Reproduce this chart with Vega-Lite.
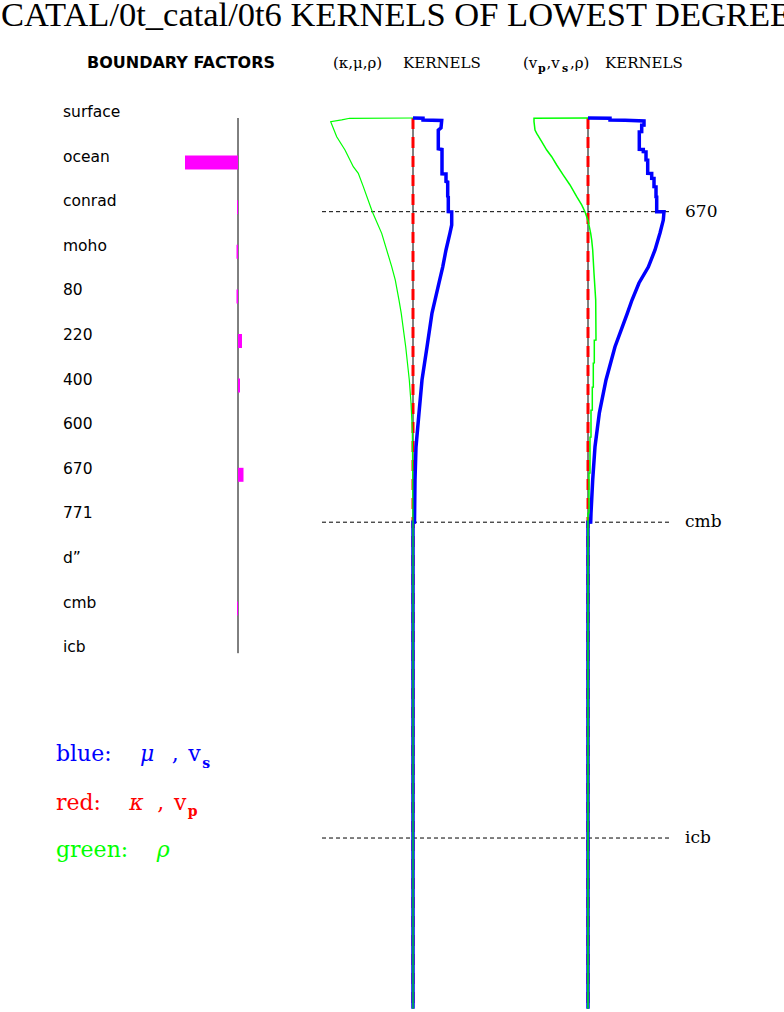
{
  "$schema": "https://vega.github.io/schema/vega-lite/v6.json",
  "width": 784,
  "height": 1012,
  "autosize": {"type": "none"},
  "padding": 0,
  "background": "white",
  "config": {"view": {"stroke": null}},
  "datasets": {
    "boundary": [
      {"boundary": "surface", "factor": 0},
      {"boundary": "ocean", "factor": -5.3},
      {"boundary": "conrad", "factor": -0.1},
      {"boundary": "moho", "factor": -0.15},
      {"boundary": "80", "factor": -0.15},
      {"boundary": "220", "factor": 0.4},
      {"boundary": "400", "factor": 0.2},
      {"boundary": "600", "factor": 0},
      {"boundary": "670", "factor": 0.55},
      {"boundary": "771", "factor": 0},
      {"boundary": "d”", "factor": 0},
      {"boundary": "cmb", "factor": -0.1},
      {"boundary": "icb", "factor": 0}
    ],
    "refs": [
      {"name": "670", "depth": 670},
      {"name": "cmb", "depth": 2891},
      {"name": "icb", "depth": 5150}
    ],
    "kmr": [
      {"param": "kappa", "depth": 0, "value": 0},
      {"param": "kappa", "depth": 2891, "value": 0},
      {"param": "kappa", "depth": 6371, "value": 0},
      {"param": "mu", "depth": 0, "value": 0},
      {"param": "mu", "depth": 2, "value": 0.2},
      {"param": "mu", "depth": 14, "value": 0.2},
      {"param": "mu", "depth": 18, "value": 0.574},
      {"param": "mu", "depth": 71, "value": 0.56},
      {"param": "mu", "depth": 86, "value": 0.506},
      {"param": "mu", "depth": 220, "value": 0.506},
      {"param": "mu", "depth": 225, "value": 0.58},
      {"param": "mu", "depth": 400, "value": 0.58},
      {"param": "mu", "depth": 401, "value": 0.66},
      {"param": "mu", "depth": 454, "value": 0.66},
      {"param": "mu", "depth": 458, "value": 0.694},
      {"param": "mu", "depth": 561, "value": 0.694},
      {"param": "mu", "depth": 565, "value": 0.706},
      {"param": "mu", "depth": 670, "value": 0.706},
      {"param": "mu", "depth": 671, "value": 0.774},
      {"param": "mu", "depth": 765, "value": 0.774},
      {"param": "mu", "depth": 822, "value": 0.74},
      {"param": "mu", "depth": 944, "value": 0.66},
      {"param": "mu", "depth": 1066, "value": 0.594},
      {"param": "mu", "depth": 1180, "value": 0.52},
      {"param": "mu", "depth": 1302, "value": 0.44},
      {"param": "mu", "depth": 1395, "value": 0.38},
      {"param": "mu", "depth": 1638, "value": 0.28},
      {"param": "mu", "depth": 1874, "value": 0.18},
      {"param": "mu", "depth": 2110, "value": 0.12},
      {"param": "mu", "depth": 2353, "value": 0.06},
      {"param": "mu", "depth": 2589, "value": 0.04},
      {"param": "mu", "depth": 2890, "value": 0.03},
      {"param": "mu", "depth": 2891, "value": 0},
      {"param": "mu", "depth": 6371, "value": 0},
      {"param": "rho", "depth": 0, "value": 0},
      {"param": "rho", "depth": 2, "value": -1.266},
      {"param": "rho", "depth": 14, "value": -1.426},
      {"param": "rho", "depth": 26, "value": -1.646},
      {"param": "rho", "depth": 134, "value": -1.526},
      {"param": "rho", "depth": 229, "value": -1.36},
      {"param": "rho", "depth": 348, "value": -1.194},
      {"param": "rho", "depth": 396, "value": -1.094},
      {"param": "rho", "depth": 491, "value": -0.994},
      {"param": "rho", "depth": 670, "value": -0.814},
      {"param": "rho", "depth": 825, "value": -0.626},
      {"param": "rho", "depth": 1063, "value": -0.426},
      {"param": "rho", "depth": 1159, "value": -0.354},
      {"param": "rho", "depth": 1302, "value": -0.28},
      {"param": "rho", "depth": 1397, "value": -0.235},
      {"param": "rho", "depth": 1636, "value": -0.146},
      {"param": "rho", "depth": 1874, "value": -0.074},
      {"param": "rho", "depth": 2038, "value": -0.04},
      {"param": "rho", "depth": 2232, "value": -0.014},
      {"param": "rho", "depth": 2589, "value": -0.006},
      {"param": "rho", "depth": 2891, "value": 0},
      {"param": "rho", "depth": 6371, "value": 0}
    ],
    "vvr": [
      {"param": "vp", "depth": 0, "value": 0},
      {"param": "vp", "depth": 2891, "value": 0},
      {"param": "vp", "depth": 6371, "value": 0},
      {"param": "vs", "depth": 0, "value": 0},
      {"param": "vs", "depth": 2, "value": 0.44},
      {"param": "vs", "depth": 14, "value": 0.44},
      {"param": "vs", "depth": 16, "value": 0.74},
      {"param": "vs", "depth": 21, "value": 1.12},
      {"param": "vs", "depth": 50, "value": 1.12},
      {"param": "vs", "depth": 51, "value": 1.074},
      {"param": "vs", "depth": 98, "value": 1.074},
      {"param": "vs", "depth": 99, "value": 1.026},
      {"param": "vs", "depth": 224, "value": 1.026},
      {"param": "vs", "depth": 225, "value": 1.106},
      {"param": "vs", "depth": 241, "value": 1.106},
      {"param": "vs", "depth": 242, "value": 1.16},
      {"param": "vs", "depth": 300, "value": 1.16},
      {"param": "vs", "depth": 301, "value": 1.194},
      {"param": "vs", "depth": 396, "value": 1.194},
      {"param": "vs", "depth": 397, "value": 1.274},
      {"param": "vs", "depth": 431, "value": 1.274},
      {"param": "vs", "depth": 432, "value": 1.32},
      {"param": "vs", "depth": 491, "value": 1.32},
      {"param": "vs", "depth": 492, "value": 1.36},
      {"param": "vs", "depth": 563, "value": 1.36},
      {"param": "vs", "depth": 564, "value": 1.374},
      {"param": "vs", "depth": 670, "value": 1.374},
      {"param": "vs", "depth": 671, "value": 1.52},
      {"param": "vs", "depth": 730, "value": 1.506},
      {"param": "vs", "depth": 822, "value": 1.44},
      {"param": "vs", "depth": 944, "value": 1.34},
      {"param": "vs", "depth": 1066, "value": 1.206},
      {"param": "vs", "depth": 1180, "value": 1.02},
      {"param": "vs", "depth": 1302, "value": 0.88},
      {"param": "vs", "depth": 1397, "value": 0.786},
      {"param": "vs", "depth": 1636, "value": 0.54},
      {"param": "vs", "depth": 1874, "value": 0.36},
      {"param": "vs", "depth": 2112, "value": 0.226},
      {"param": "vs", "depth": 2351, "value": 0.14},
      {"param": "vs", "depth": 2589, "value": 0.094},
      {"param": "vs", "depth": 2827, "value": 0.06},
      {"param": "vs", "depth": 2890, "value": 0.054},
      {"param": "vs", "depth": 2891, "value": 0},
      {"param": "vs", "depth": 6371, "value": 0},
      {"param": "rho", "depth": 0, "value": 0},
      {"param": "rho", "depth": 2, "value": -1.08},
      {"param": "rho", "depth": 26, "value": -1.08},
      {"param": "rho", "depth": 86, "value": -1.06},
      {"param": "rho", "depth": 110, "value": -1.026},
      {"param": "rho", "depth": 169, "value": -0.926},
      {"param": "rho", "depth": 229, "value": -0.826},
      {"param": "rho", "depth": 277, "value": -0.726},
      {"param": "rho", "depth": 336, "value": -0.626},
      {"param": "rho", "depth": 408, "value": -0.494},
      {"param": "rho", "depth": 479, "value": -0.36},
      {"param": "rho", "depth": 563, "value": -0.226},
      {"param": "rho", "depth": 622, "value": -0.126},
      {"param": "rho", "depth": 670, "value": -0.06},
      {"param": "rho", "depth": 706, "value": -0.026},
      {"param": "rho", "depth": 742, "value": 0.006},
      {"param": "rho", "depth": 825, "value": 0.054},
      {"param": "rho", "depth": 873, "value": 0.074},
      {"param": "rho", "depth": 944, "value": 0.094},
      {"param": "rho", "depth": 1111, "value": 0.12},
      {"param": "rho", "depth": 1302, "value": 0.154},
      {"param": "rho", "depth": 1588, "value": 0.16},
      {"param": "rho", "depth": 1589, "value": 0.126},
      {"param": "rho", "depth": 1752, "value": 0.126},
      {"param": "rho", "depth": 1753, "value": 0.106},
      {"param": "rho", "depth": 1924, "value": 0.106},
      {"param": "rho", "depth": 1925, "value": 0.086},
      {"param": "rho", "depth": 2089, "value": 0.086},
      {"param": "rho", "depth": 2090, "value": 0.06},
      {"param": "rho", "depth": 2282, "value": 0.06},
      {"param": "rho", "depth": 2283, "value": 0.04},
      {"param": "rho", "depth": 2539, "value": 0.04},
      {"param": "rho", "depth": 2540, "value": 0.02},
      {"param": "rho", "depth": 2825, "value": 0.02},
      {"param": "rho", "depth": 2826, "value": 0},
      {"param": "rho", "depth": 6371, "value": 0}
    ]
  },
  "layer": [
    {
      "data": {"name": "boundary"},
      "layer": [
        {
          "data": {"values": [{"from": "surface", "to": "icb"}]},
          "mark": {"type": "rule", "color": "black", "strokeWidth": 1},
          "encoding": {
            "x": {"datum": 0, "type": "quantitative", "scale": {"domain": [-23.8, 54.6], "nice": false, "zero": false}, "axis": null},
            "y": {"field": "from", "type": "nominal", "scale": {"type": "point", "domain": ["surface", "ocean", "conrad", "moho", "80", "220", "400", "600", "670", "771", "d”", "cmb", "icb"], "range": [118, 653.2], "padding": 0}, "axis": null},
            "y2": {"field": "to"}
          }
        },
        {
          "mark": {"type": "bar", "size": 14, "color": "#ff00ff", "orient": "horizontal"},
          "encoding": {
            "x": {"field": "factor", "type": "quantitative", "scale": {"domain": [-23.8, 54.6], "nice": false, "zero": false}, "axis": null},
            "x2": {"datum": 0},
            "y": {"field": "boundary", "type": "nominal", "sort": null, "scale": {"type": "point", "domain": ["surface", "ocean", "conrad", "moho", "80", "220", "400", "600", "670", "771", "d”", "cmb", "icb"], "range": [118, 653.2], "padding": 0}, "axis": null}
          }
        },
        {
          "mark": {"type": "text", "align": "left", "baseline": "alphabetic", "font": "DejaVu Sans", "fontSize": 15.5, "dy": -1, "color": "black"},
          "encoding": {
            "x": {"datum": -17.5, "type": "quantitative", "scale": {"domain": [-23.8, 54.6], "nice": false, "zero": false}, "axis": null},
            "y": {"field": "boundary", "type": "nominal", "sort": null, "scale": {"type": "point", "domain": ["surface", "ocean", "conrad", "moho", "80", "220", "400", "600", "670", "771", "d”", "cmb", "icb"], "range": [118, 653.2], "padding": 0}, "axis": null},
            "text": {"field": "boundary"}
          }
        }
      ]
    },
    {
      "data": {"name": "kmr"},
      "layer": [
        {
          "data": {"name": "refs"},
          "mark": {"type": "rule", "color": "black", "strokeWidth": 1, "strokeDash": [4, 3]},
          "encoding": {
            "x": {"datum": -1.82, "type": "quantitative", "scale": {"domain": [-8.26, 7.42], "nice": false, "zero": false}, "axis": null},
            "x2": {"datum": 5.18},
            "y": {"field": "depth", "type": "quantitative", "scale": {"domain": [-844, 6394.4], "reverse": true, "nice": false, "zero": false}, "axis": null}
          }
        },
        {
          "data": {"name": "refs"},
          "mark": {"type": "text", "align": "left", "baseline": "middle", "font": "DejaVu Serif", "fontSize": 17, "color": "black"},
          "encoding": {
            "x": {"datum": 5.44, "type": "quantitative", "scale": {"domain": [-8.26, 7.42], "nice": false, "zero": false}, "axis": null},
            "y": {"field": "depth", "type": "quantitative", "scale": {"domain": [-844, 6394.4], "reverse": true, "nice": false, "zero": false}, "axis": null},
            "text": {"field": "name"}
          }
        },
        {
          "data": {"values": [{"top": 0, "bottom": 6371}]},
          "mark": {"type": "rule", "color": "black", "strokeWidth": 1},
          "encoding": {
            "x": {"datum": 0, "type": "quantitative", "scale": {"domain": [-8.26, 7.42], "nice": false, "zero": false}, "axis": null},
            "y": {"field": "top", "type": "quantitative", "scale": {"domain": [-844, 6394.4], "reverse": true, "nice": false, "zero": false}, "axis": null},
            "y2": {"field": "bottom"}
          }
        },
        {
          "transform": [{"filter": "datum.param == 'kappa'"}],
          "mark": {"type": "line", "color": "#ff0000", "strokeWidth": 3, "strokeDash": [11, 8]},
          "encoding": {
            "x": {"field": "value", "type": "quantitative", "scale": {"domain": [-8.26, 7.42], "nice": false, "zero": false}, "axis": null},
            "y": {"field": "depth", "type": "quantitative", "scale": {"domain": [-844, 6394.4], "reverse": true, "nice": false, "zero": false}, "axis": null},
            "order": {"value": null}
          }
        },
        {
          "transform": [{"filter": "datum.param == 'mu'"}],
          "mark": {"type": "line", "color": "#0000ff", "strokeWidth": 3.5},
          "encoding": {
            "x": {"field": "value", "type": "quantitative", "scale": {"domain": [-8.26, 7.42], "nice": false, "zero": false}, "axis": null},
            "y": {"field": "depth", "type": "quantitative", "scale": {"domain": [-844, 6394.4], "reverse": true, "nice": false, "zero": false}, "axis": null},
            "order": {"value": null}
          }
        },
        {
          "transform": [{"filter": "datum.param == 'rho'"}],
          "mark": {"type": "line", "color": "#00ff00", "strokeWidth": 1.2},
          "encoding": {
            "x": {"field": "value", "type": "quantitative", "scale": {"domain": [-8.26, 7.42], "nice": false, "zero": false}, "axis": null},
            "y": {"field": "depth", "type": "quantitative", "scale": {"domain": [-844, 6394.4], "reverse": true, "nice": false, "zero": false}, "axis": null},
            "order": {"value": null}
          }
        },
        {
          "data": {"values": [{"t": "CATAL/0t_catal/0t6 KERNELS OF LOWEST DEGREE"}]},
          "mark": {"type": "text", "align": "left", "baseline": "alphabetic", "font": "Liberation Serif", "fontSize": 34.5, "color": "black"},
          "encoding": {
            "x": {"datum": -8.24, "type": "quantitative", "scale": {"domain": [-8.26, 7.42], "nice": false, "zero": false}, "axis": null},
            "y": {"datum": -658, "type": "quantitative", "scale": {"domain": [-844, 6394.4], "reverse": true, "nice": false, "zero": false}, "axis": null},
            "text": {"field": "t"}
          }
        },
        {
          "data": {"values": [{"t": "BOUNDARY FACTORS"}]},
          "mark": {"type": "text", "align": "center", "baseline": "alphabetic", "font": "DejaVu Sans", "fontWeight": "bold", "fontSize": 16, "color": "black"},
          "encoding": {
            "x": {"datum": -4.64, "type": "quantitative", "scale": {"domain": [-8.26, 7.42], "nice": false, "zero": false}, "axis": null},
            "y": {"datum": -357.6, "type": "quantitative", "scale": {"domain": [-844, 6394.4], "reverse": true, "nice": false, "zero": false}, "axis": null},
            "text": {"field": "t"}
          }
        },
        {
          "data": {"values": [{"t": "(κ,μ,ρ)"}]},
          "mark": {"type": "text", "align": "left", "baseline": "alphabetic", "font": "DejaVu Serif", "fontSize": 15, "color": "black"},
          "encoding": {
            "x": {"datum": -1.6, "type": "quantitative", "scale": {"domain": [-8.26, 7.42], "nice": false, "zero": false}, "axis": null},
            "y": {"datum": -357.6, "type": "quantitative", "scale": {"domain": [-844, 6394.4], "reverse": true, "nice": false, "zero": false}, "axis": null},
            "text": {"field": "t"}
          }
        },
        {
          "data": {"values": [{"t": "KERNELS"}]},
          "mark": {"type": "text", "align": "left", "baseline": "alphabetic", "font": "DejaVu Serif", "fontSize": 15, "color": "black"},
          "encoding": {
            "x": {"datum": -0.2, "type": "quantitative", "scale": {"domain": [-8.26, 7.42], "nice": false, "zero": false}, "axis": null},
            "y": {"datum": -357.6, "type": "quantitative", "scale": {"domain": [-844, 6394.4], "reverse": true, "nice": false, "zero": false}, "axis": null},
            "text": {"field": "t"}
          }
        },
        {
          "data": {"values": [
            {"t": "blue:", "px": -7.14, "py": 4597, "col": "blue"},
            {"t": "red:", "px": -7.14, "py": 4950, "col": "red"},
            {"t": "green:", "px": -7.14, "py": 5284, "col": "green"}
          ]},
          "mark": {"type": "text", "align": "left", "baseline": "alphabetic", "font": "DejaVu Serif", "fontSize": 22},
          "encoding": {
            "x": {"field": "px", "type": "quantitative", "scale": {"domain": [-8.26, 7.42], "nice": false, "zero": false}, "axis": null},
            "y": {"field": "py", "type": "quantitative", "scale": {"domain": [-844, 6394.4], "reverse": true, "nice": false, "zero": false}, "axis": null},
            "text": {"field": "t"},
            "color": {"field": "col", "type": "nominal", "scale": {"domain": ["blue", "red", "green"], "range": ["#0000ff", "#ff0000", "#00ff00"]}, "legend": null}
          }
        },
        {
          "data": {"values": [
            {"t": "μ", "px": -5.46, "py": 4597, "col": "blue"},
            {"t": "κ", "px": -5.674, "py": 4950, "col": "red"},
            {"t": "ρ", "px": -5.126, "py": 5284, "col": "green"}
          ]},
          "mark": {"type": "text", "align": "left", "baseline": "alphabetic", "font": "DejaVu Serif", "fontStyle": "italic", "fontSize": 22},
          "encoding": {
            "x": {"field": "px", "type": "quantitative", "scale": {"domain": [-8.26, 7.42], "nice": false, "zero": false}, "axis": null},
            "y": {"field": "py", "type": "quantitative", "scale": {"domain": [-844, 6394.4], "reverse": true, "nice": false, "zero": false}, "axis": null},
            "text": {"field": "t"},
            "color": {"field": "col", "type": "nominal", "scale": {"domain": ["blue", "red", "green"], "range": ["#0000ff", "#ff0000", "#00ff00"]}, "legend": null}
          }
        },
        {
          "data": {"values": [
            {"t": ",", "px": -4.826, "py": 4597, "col": "blue"},
            {"t": "v", "px": -4.494, "py": 4597, "col": "blue"},
            {"t": ",", "px": -5.114, "py": 4950, "col": "red"},
            {"t": "v", "px": -4.78, "py": 4950, "col": "red"}
          ]},
          "mark": {"type": "text", "align": "left", "baseline": "alphabetic", "font": "DejaVu Serif", "fontSize": 22},
          "encoding": {
            "x": {"field": "px", "type": "quantitative", "scale": {"domain": [-8.26, 7.42], "nice": false, "zero": false}, "axis": null},
            "y": {"field": "py", "type": "quantitative", "scale": {"domain": [-844, 6394.4], "reverse": true, "nice": false, "zero": false}, "axis": null},
            "text": {"field": "t"},
            "color": {"field": "col", "type": "nominal", "scale": {"domain": ["blue", "red", "green"], "range": ["#0000ff", "#ff0000", "#00ff00"]}, "legend": null}
          }
        },
        {
          "data": {"values": [
            {"t": "s", "px": -4.214, "py": 4649, "col": "blue"},
            {"t": "p", "px": -4.506, "py": 4992, "col": "red"}
          ]},
          "mark": {"type": "text", "align": "left", "baseline": "alphabetic", "font": "DejaVu Serif", "fontWeight": "bold", "fontSize": 14},
          "encoding": {
            "x": {"field": "px", "type": "quantitative", "scale": {"domain": [-8.26, 7.42], "nice": false, "zero": false}, "axis": null},
            "y": {"field": "py", "type": "quantitative", "scale": {"domain": [-844, 6394.4], "reverse": true, "nice": false, "zero": false}, "axis": null},
            "text": {"field": "t"},
            "color": {"field": "col", "type": "nominal", "scale": {"domain": ["blue", "red", "green"], "range": ["#0000ff", "#ff0000", "#00ff00"]}, "legend": null}
          }
        }
      ]
    },
    {
      "data": {"name": "vvr"},
      "layer": [
        {
          "data": {"values": [{"top": 0, "bottom": 6371}]},
          "mark": {"type": "rule", "color": "black", "strokeWidth": 1},
          "encoding": {
            "x": {"datum": 0, "type": "quantitative", "scale": {"domain": [-11.76, 3.92], "nice": false, "zero": false}, "axis": null},
            "y": {"field": "top", "type": "quantitative", "scale": {"domain": [-844, 6394.4], "reverse": true, "nice": false, "zero": false}, "axis": null},
            "y2": {"field": "bottom"}
          }
        },
        {
          "transform": [{"filter": "datum.param == 'vp'"}],
          "mark": {"type": "line", "color": "#ff0000", "strokeWidth": 3, "strokeDash": [11, 8]},
          "encoding": {
            "x": {"field": "value", "type": "quantitative", "scale": {"domain": [-11.76, 3.92], "nice": false, "zero": false}, "axis": null},
            "y": {"field": "depth", "type": "quantitative", "scale": {"domain": [-844, 6394.4], "reverse": true, "nice": false, "zero": false}, "axis": null},
            "order": {"value": null}
          }
        },
        {
          "transform": [{"filter": "datum.param == 'vs'"}],
          "mark": {"type": "line", "color": "#0000ff", "strokeWidth": 3.5},
          "encoding": {
            "x": {"field": "value", "type": "quantitative", "scale": {"domain": [-11.76, 3.92], "nice": false, "zero": false}, "axis": null},
            "y": {"field": "depth", "type": "quantitative", "scale": {"domain": [-844, 6394.4], "reverse": true, "nice": false, "zero": false}, "axis": null},
            "order": {"value": null}
          }
        },
        {
          "transform": [{"filter": "datum.param == 'rho'"}],
          "mark": {"type": "line", "color": "#00ff00", "strokeWidth": 1.5},
          "encoding": {
            "x": {"field": "value", "type": "quantitative", "scale": {"domain": [-11.76, 3.92], "nice": false, "zero": false}, "axis": null},
            "y": {"field": "depth", "type": "quantitative", "scale": {"domain": [-844, 6394.4], "reverse": true, "nice": false, "zero": false}, "axis": null},
            "order": {"value": null}
          }
        },
        {
          "data": {"values": [
            {"t": "(v", "px": -1.3, "py": -357.6},
            {"t": ",v", "px": -0.83, "py": -357.6},
            {"t": ",ρ)", "px": -0.36, "py": -357.6},
            {"t": "KERNELS", "px": 0.34, "py": -357.6}
          ]},
          "mark": {"type": "text", "align": "left", "baseline": "alphabetic", "font": "DejaVu Serif", "fontSize": 15, "color": "black"},
          "encoding": {
            "x": {"field": "px", "type": "quantitative", "scale": {"domain": [-11.76, 3.92], "nice": false, "zero": false}, "axis": null},
            "y": {"field": "py", "type": "quantitative", "scale": {"domain": [-844, 6394.4], "reverse": true, "nice": false, "zero": false}, "axis": null},
            "text": {"field": "t"}
          }
        },
        {
          "data": {"values": [
            {"t": "p", "px": -1.0, "py": -329},
            {"t": "s", "px": -0.52, "py": -329}
          ]},
          "mark": {"type": "text", "align": "left", "baseline": "alphabetic", "font": "DejaVu Serif", "fontWeight": "bold", "fontSize": 11, "color": "black"},
          "encoding": {
            "x": {"field": "px", "type": "quantitative", "scale": {"domain": [-11.76, 3.92], "nice": false, "zero": false}, "axis": null},
            "y": {"field": "py", "type": "quantitative", "scale": {"domain": [-844, 6394.4], "reverse": true, "nice": false, "zero": false}, "axis": null},
            "text": {"field": "t"}
          }
        }
      ]
    }
  ],
  "resolve": {"scale": {"x": "independent", "y": "independent", "color": "independent"}}
}
